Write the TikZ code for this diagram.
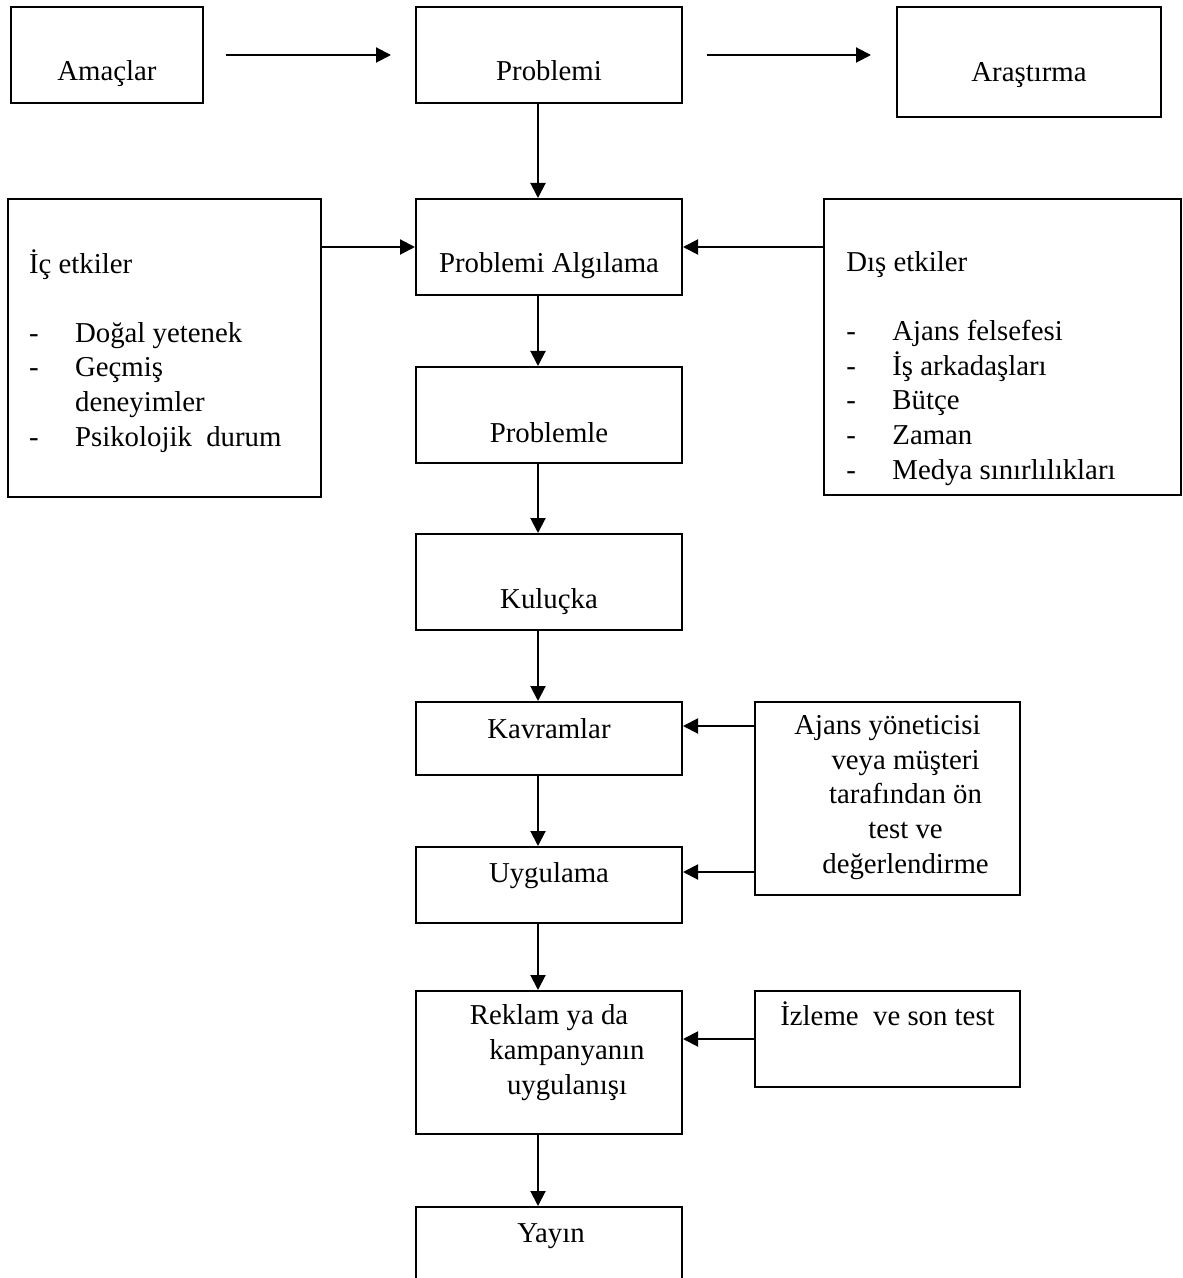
\documentclass[tikz,border=0pt]{standalone}
\usepackage{fontspec}
\setmainfont{Liberation Serif}
\usepackage{tikz}
\usetikzlibrary{arrows.meta}
\newcommand{\madde}{\makebox[23pt][l]{-}}

\begin{document}
\begin{tikzpicture}[x=0.5pt, y=-0.5pt, font=\fontsize{14.4pt}{17.3pt}\selectfont,
        kutu/.style={draw, line width=1pt, inner sep=0pt, minimum width=133pt, minimum height=48pt},
        yazi/.style={inner sep=0pt, anchor=base},
        ok/.style={-{Triangle[length=7.5pt,width=7.5pt]}, line width=1pt}]
            \useasboundingbox (0,0) rectangle (1182,1278);
            \clip (0,0) rectangle (1182,1278);
            \node[kutu, minimum width=96pt] (amac) at (107,55) {};
            \node[kutu] (prob) at (549,55) {};
            \node[kutu, minimum width=132pt, minimum height=55pt] (arast) at (1029,62) {};
            \node[kutu] (alg) at (549,247) {};
            \node[kutu, minimum width=156.5pt, minimum height=149pt] (ic) at (164.5,348) {};
            \node[kutu, minimum width=178.5pt, minimum height=148pt] (dis) at (1002.5,347) {};
            \node[kutu] (probl) at (549,415) {};
            \node[kutu] (kulu) at (549,582) {};
            \node[kutu, minimum height=36.5pt] (kavr) at (549,738.5) {};
            \node[kutu, minimum height=38pt] (uyg) at (549,885) {};
            \node[kutu, minimum width=132.5pt, minimum height=96.5pt] (ajans) at (887.5,798.5) {};
            \node[kutu, minimum height=71.5pt] (rek) at (549,1062.5) {};
            \node[kutu, minimum width=132.5pt] (izle) at (887.5,1039) {};
            \node[kutu, minimum height=50pt] (yayin) at (549,1257) {};
            \node[yazi] (amac-t) at (107,81) {Amaçlar};
            \node[yazi] (prob-t) at (549,81) {Problemi};
            \node[yazi] (arast-t) at (1029,82) {Araştırma};
            \node[yazi] (alg-t) at (549,273) {Problemi Algılama};
            \node[yazi] (probl-t) at (549,442) {Problemle};
            \node[yazi] (kulu-t) at (549,608) {Kuluçka};
            \node[yazi] (kavr-t) at (549,738) {Kavramlar};
            \node[yazi] (uyg-t) at (549,882) {Uygulama};
            \node[yazi, align=center] (rek-t) at (549,1094) {Reklam ya da\\\hspace*{18pt}kampanyanın\\\hspace*{18pt}uygulanışı};
            \node[yazi, align=center] (ajans-t) at (887.5,873) {Ajans yöneticisi\\\hspace*{18pt}veya müşteri\\\hspace*{18pt}tarafından ön\\\hspace*{18pt}test ve\\\hspace*{18pt}değerlendirme};
            \node[yazi] (izle-t) at (887.5,1025) {İzleme\ \ ve son test};
            \node[yazi] (yayin-t) at (551,1242) {Yayın};
            \node[yazi, anchor=base west, align=left] (ic-t) at (28.7,446) {İç etkiler\\[17.3pt]\madde Doğal yetenek\\\madde Geçmiş\\\hspace*{23pt}deneyimler\\\madde Psikolojik\ \ durum};
            \node[yazi, anchor=base west, align=left] (dis-t) at (846,479) {Dış etkiler\\[17.3pt]\madde Ajans felsefesi\\\madde İş arkadaşları\\\madde Bütçe\\\madde Zaman\\\madde Medya sınırlılıkları};
            \coordinate (eksen) at (538,0);
            \foreach \a/\b in {prob/alg, alg/probl, probl/kulu, kulu/kavr, kavr/uyg, uyg/rek, rek/yayin} {
                    \draw[ok] (eksen |- \a.south) -- (eksen |- \b.north);
                }
            \draw[ok, shorten <=11pt, shorten >=12pt] (amac) -- (prob);
            \draw[ok, shorten <=12pt, shorten >=12.5pt] (prob.east) -- (prob.east -| arast.west);
            \draw[ok] (ic.east |- alg.west) -- (alg.west);
            \draw[ok] (dis.west |- alg.east) -- (alg.east);
            \draw[ok] ([yshift=-12.5pt]ajans.north west) -- ([yshift=-12.5pt]ajans.north west -| kavr.east);
            \draw[ok] ([yshift=12pt]ajans.south west) -- ([yshift=12pt]ajans.south west -| uyg.east);
            \draw[ok] (izle.west) -- (izle.west -| rek.east);
        \end{tikzpicture}
\end{document}
